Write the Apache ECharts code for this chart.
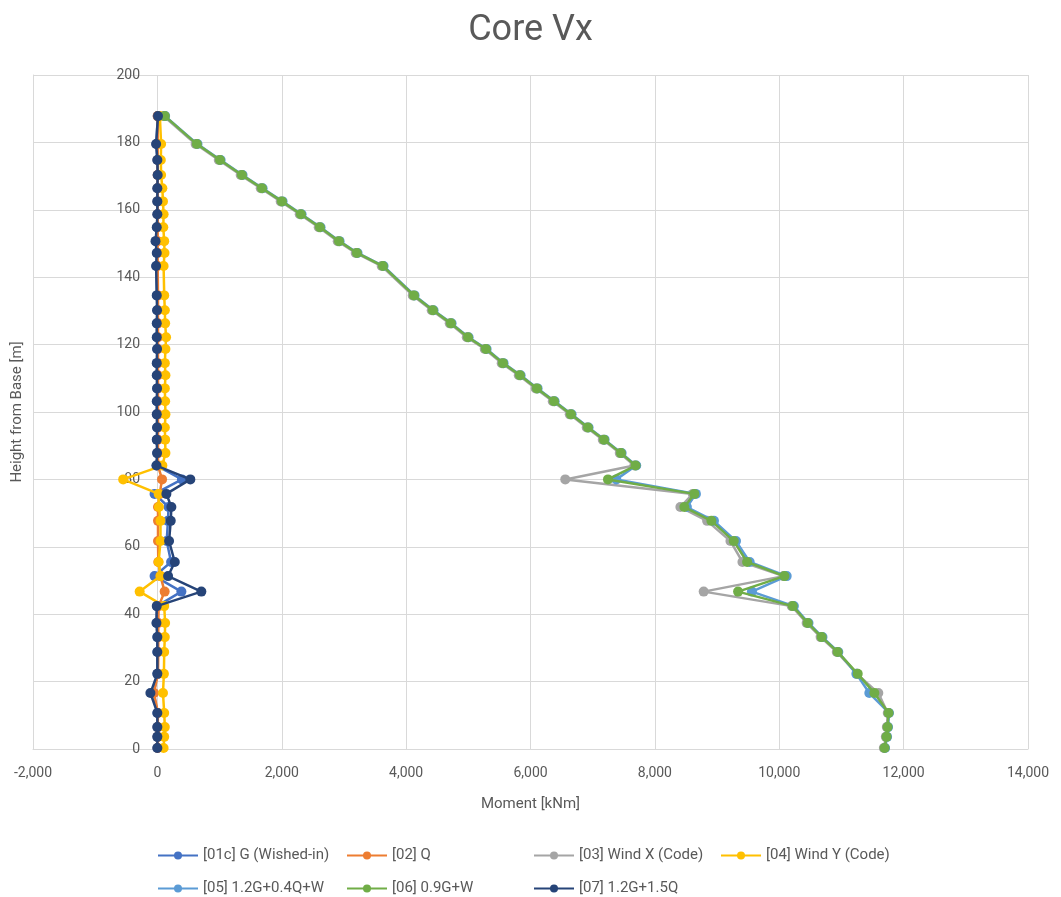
<!DOCTYPE html>
<html>
<head>
<meta charset="utf-8">
<title>Core Vx</title>
<script src="https://cdn.jsdelivr.net/npm/echarts@6/dist/echarts.min.js"></script>
<style>
  html, body { margin: 0; padding: 0; background: #ffffff; }
  #chart { width: 1061px; height: 897px; }
</style>
</head>
<body>
<div id="chart"></div>
<script>
// Storey heights from base [m], top to bottom
const heights = [187.8, 179.5, 174.8, 170.3, 166.4, 162.5, 158.7, 154.8, 150.7, 147.2, 143.3,
  134.6, 130.2, 126.3, 122.2, 118.7, 114.5, 110.9, 107.0, 103.2, 99.3, 95.4, 91.8, 87.8, 84.1,
  80.0, 75.7, 71.8, 67.7, 61.7, 55.5, 51.3, 46.7, 42.4, 37.4, 33.2, 28.8, 22.3, 16.6, 10.7, 6.5, 3.6, 0.3];

// Core moment Vx per load case [kNm], same order as heights
const gWishedIn = [5, -15, 0, 5, 0, 0, 0, -5, -20, -5, -15, -5, 0, -5, -5, 0, -5, -5, 0, -5, -5, 0,
  -5, 0, -10, 395, -45, 180, 170, 150, 220, -45, 386, -5, -10, 0, 0, 0, -60, 0, 0, 0, 0];
const liveQ = [5, 5, 5, 5, 5, 5, 5, 5, 5, 5, 5, 10, 10, 10, 10, 10, 10, 10, 10, 10, 10, 10, 10, 10,
  10, 75, 37, 10, 10, 10, 15, 50, 117, 20, 15, 15, 15, 10, -55, 10, 5, 5, 5];
const windX = [100, 615, 987, 1340, 1662, 1983, 2289, 2594, 2900, 3189, 3607, 4106, 4411, 4701, 4975,
  5264, 5537, 5811, 6084, 6358, 6631, 6904, 7162, 7435, 7670, 6559, 8610, 8410, 8840, 9215, 9408,
  10070, 8785, 10200, 10440, 10665, 10925, 11250, 11593, 11745, 11730, 11714, 11682];
const windY = [40, 60, 55, 60, 80, 90, 100, 95, 110, 115, 100, 110, 120, 125, 140, 130, 120, 130, 120,
  125, 130, 120, 125, 130, 80, -550, 20, 25, 50, 50, 20, 50, -285, 110, 125, 120, 110, 105, 90, 110,
  120, 110, 100];
const combo05 = [125, 645, 1017, 1370, 1692, 2013, 2319, 2624, 2930, 3219, 3637, 4136, 4441, 4731, 5005,
  5294, 5567, 5841, 6114, 6388, 6661, 6934, 7192, 7465, 7700, 7380, 8660, 8515, 8950, 9305, 9525,
  10120, 9560, 10235, 10470, 10695, 10950, 11240, 11448, 11765, 11750, 11734, 11702];
const combo06 = [120, 635, 1007, 1360, 1682, 2003, 2309, 2614, 2920, 3209, 3627, 4126, 4431, 4721, 4995,
  5284, 5557, 5831, 6104, 6378, 6651, 6924, 7182, 7455, 7690, 7246, 8635, 8474, 8909, 9268, 9483,
  10083, 9338, 10217, 10458, 10683, 10940, 11262, 11530, 11758, 11742, 11726, 11694];
const combo07 = [10, -20, 0, 5, 0, 0, 0, -10, -30, -10, -20, -10, -5, -10, -10, -5, -10, -10, -5, -10,
  -10, -5, -10, -5, -15, 530, 145, 225, 215, 188, 280, 172, 707, -10, -15, 0, 0, 0, -112, 0, 0, 0, 0];

const seriesNames = ['[01c] G (Wished-in)', '[02] Q', '[03] Wind X (Code)', '[04] Wind Y (Code)',
  '[05] 1.2G+0.4Q+W', '[06] 0.9G+W', '[07] 1.2G+1.5Q'];
const seriesValues = [gWishedIn, liveQ, windX, windY, combo05, combo06, combo07];
const seriesColors = ['#4472C4', '#ED7D31', '#A5A5A5', '#FFC000', '#5B9BD5', '#70AD47', '#264478'];

const textColor = '#595959';
const gridColor = '#D9D9D9';
const fontFamily = 'Roboto, "Liberation Sans", sans-serif';

const series = seriesNames.map((name, i) => ({
  name: name,
  type: 'line',
  data: seriesValues[i].map((v, k) => [v, heights[k]]),
  symbol: 'circle',
  symbolSize: 10,
  lineStyle: { width: 2.5, color: seriesColors[i] },
  itemStyle: { color: seriesColors[i] },
  emphasis: { disabled: true },
  animation: false,
  z: 2 + i
}));

// Legend laid out as a 4-column, 2-row table: one legend entry per cell
const legendCells = [
  [0, 157, 848], [1, 346, 848], [2, 533, 848], [3, 720, 848],
  [4, 157, 881], [5, 346, 881], [6, 533, 881]
];
const legends = legendCells.map(([idx, left, top]) => ({
  left: left,
  top: top,
  itemWidth: 40,
  itemHeight: 10,
  padding: 0,
  data: [seriesNames[idx]],
  textStyle: { color: textColor, fontSize: 15, fontFamily: fontFamily },
  selectedMode: false
}));

// Plot area: x from -2,000 to 14,000 spans 33..1028 px, so x = 0 sits 124 px in from the left edge.
// Height labels are drawn beside that zero line.
const zeroOffset = 124;

const chart = echarts.init(document.getElementById('chart'), null, { renderer: 'canvas' });
chart.setOption({
  backgroundColor: '#ffffff',
  animation: false,
  title: {
    text: 'Core Vx',
    left: 'center',
    top: 8,
    textStyle: { color: textColor, fontSize: 36, fontWeight: 'normal', fontFamily: fontFamily }
  },
  legend: legends,
  grid: { left: 33, right: 33, top: 75, bottom: 148, containLabel: false, outerBoundsMode: 'none' },
  xAxis: {
    type: 'value',
    min: -2000,
    max: 14000,
    interval: 2000,
    name: 'Moment [kNm]',
    nameLocation: 'middle',
    nameGap: 48,
    nameTextStyle: { color: textColor, fontSize: 15, fontFamily: fontFamily },
    axisLine: { show: true, onZero: false, lineStyle: { color: gridColor, width: 1 } },
    axisTick: { show: false },
    axisLabel: {
      color: textColor, fontSize: 14, fontFamily: fontFamily, margin: 17,
      formatter: v => v.toLocaleString('en-US')
    },
    splitLine: { show: true, lineStyle: { color: gridColor, width: 1 } }
  },
  yAxis: {
    type: 'value',
    min: 0,
    max: 200,
    interval: 20,
    name: 'Height from Base [m]',
    nameLocation: 'middle',
    nameGap: 8,
    nameTextStyle: { color: textColor, fontSize: 15, fontFamily: fontFamily },
    axisLine: { show: true, onZero: false, lineStyle: { color: gridColor, width: 1 } },
    axisTick: { show: false },
    axisLabel: { color: textColor, fontSize: 14, fontFamily: fontFamily, margin: 17 - zeroOffset },
    splitLine: { show: true, lineStyle: { color: gridColor, width: 1 } }
  },
  series: series
});
</script>
</body>
</html>
